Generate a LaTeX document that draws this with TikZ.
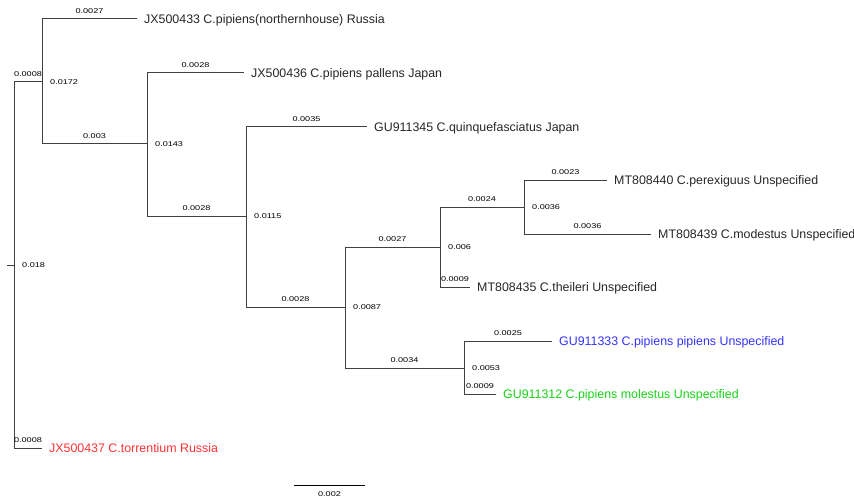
\documentclass[tikz,border=0pt]{standalone}
\usepackage{fontspec}
\setmainfont{Liberation Sans}
\newfontfamily\lenfont[FakeStretch=1.3]{Liberation Sans}

\begin{document}
\begin{tikzpicture}[x=1pt, y=-1pt,
    branch/.style={draw=black!75, line width=1pt},
    leaf/.style={anchor=west, inner xsep=7pt, inner ysep=0pt, text=black!85,
                 text height=8.8pt, text depth=0pt, font=\fontsize{12.4}{14}\selectfont},
    blen/.style={font=\lenfont\fontsize{7}{8}\selectfont, inner sep=0pt,
                 text depth=0pt, above=5pt},
    nlen/.style={font=\lenfont\fontsize{7}{8}\selectfont, anchor=west, inner sep=0pt,
                 text height=5pt, text depth=0pt, xshift=8pt}]
    \colorlet{tipred}{red!80!white}
    \colorlet{tipblue}{blue!80!white}
    \colorlet{tipgreen}{green!80!black!90!white}

    \useasboundingbox (0,0) rectangle (854,500);

    % root and inner nodes
    \coordinate (stub) at (7,265);
    \coordinate (root) at (14,265);
    \coordinate (n1) at (42,82);
    \coordinate (n2) at (147,144);
    \coordinate (n3) at (246,216);
    \coordinate (n4) at (345,307);
    \coordinate (n5) at (440,247);
    \coordinate (n6) at (524,207);
    \coordinate (n7) at (464,368);

    % tips
    \node[leaf] (jx433) at (137,19) {JX500433 C.pipiens(northernhouse) Russia};
    \node[leaf] (jx436) at (244,73) {JX500436 C.pipiens pallens Japan};
    \node[leaf] (gu345) at (367,127) {GU911345 C.quinquefasciatus Japan};
    \node[leaf] (mt440) at (607,180) {MT808440 C.perexiguus Unspecified};
    \node[leaf] (mt439) at (651,234) {MT808439 C.modestus Unspecified};
    \node[leaf] (mt435) at (470,287) {MT808435 C.theileri Unspecified};
    \node[leaf, text=tipblue] (gu333) at (552,341) {GU911333 C.pipiens pipiens Unspecified};
    \node[leaf, text=tipgreen] (gu312) at (496,394) {GU911312 C.pipiens molestus Unspecified};
    \node[leaf, text=tipred] (jx437) at (42,448) {JX500437 C.torrentium Russia};

    % branches with lengths
    \draw[branch] (stub) -- (root);
    \draw[branch] (root) |- node[blen, pos=0.75] {0.0008} (n1);
    \draw[branch] (root) |- node[blen, pos=0.75] {0.0008} (jx437);
    \draw[branch] (n1) |- node[blen, pos=0.75] {0.0027} (jx433);
    \draw[branch] (n1) |- node[blen, pos=0.75] {0.003} (n2);
    \draw[branch] (n2) |- node[blen, pos=0.75] {0.0028} (jx436);
    \draw[branch] (n2) |- node[blen, pos=0.75] {0.0028} (n3);
    \draw[branch] (n3) |- node[blen, pos=0.75] {0.0035} (gu345);
    \draw[branch] (n3) |- node[blen, pos=0.75] {0.0028} (n4);
    \draw[branch] (n4) |- node[blen, pos=0.75] {0.0027} (n5);
    \draw[branch] (n4) |- node[blen, pos=0.75] {0.0034} (n7);
    \draw[branch] (n5) |- node[blen, pos=0.75] {0.0024} (n6);
    \draw[branch] (n5) |- node[blen, pos=0.75] {0.0009} (mt435);
    \draw[branch] (n6) |- node[blen, pos=0.75] {0.0023} (mt440);
    \draw[branch] (n6) |- node[blen, pos=0.75] {0.0036} (mt439);
    \draw[branch] (n7) |- node[blen, pos=0.75] {0.0025} (gu333);
    \draw[branch] (n7) |- node[blen, pos=0.75] {0.0009} (gu312);

    % values beside the inner nodes
    \node[nlen] (v0) at (root) {0.018};
    \node[nlen] (v1) at (n1) {0.0172};
    \node[nlen] (v2) at (n2) {0.0143};
    \node[nlen] (v3) at (n3) {0.0115};
    \node[nlen] (v4) at (n4) {0.0087};
    \node[nlen] (v5) at (n5) {0.006};
    \node[nlen] (v6) at (n6) {0.0036};
    \node[nlen] (v7) at (n7) {0.0053};

    % scale bar
    \coordinate (sb0) at (294,485);
    \coordinate (sb1) at (365,485);
    \draw[line width=1pt] (sb0) -- node[font=\lenfont\fontsize{7}{8}\selectfont,
        inner sep=0pt, below=6pt] (sblab) {0.002} (sb1);
\end{tikzpicture}
\end{document}
